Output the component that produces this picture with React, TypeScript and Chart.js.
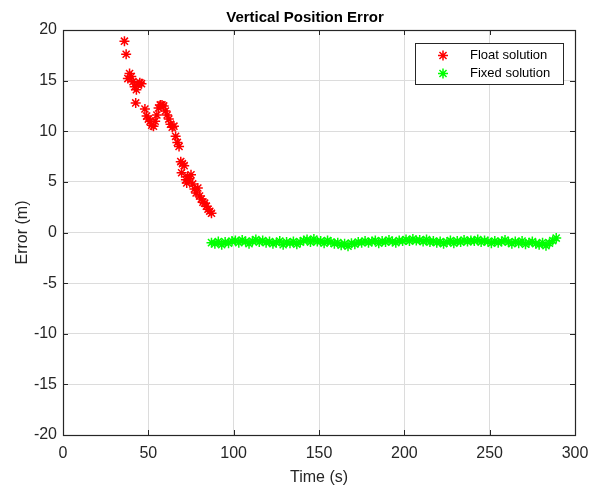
import React, { useEffect, useRef } from "react";
import { Chart, registerables } from "chart.js";

Chart.register(...registerables);

const chartTitle = "Vertical Position Error";

const floatTimes = [36, 37, 38, 39, 40, 41, 42, 42.6, 43, 44, 45, 46, 48, 49, 50, 51, 52, 53, 54, 55, 56, 57, 58, 59, 60, 61, 62, 63, 64, 65, 66, 67, 68, 69, 69.5, 70, 71, 72, 72.5, 73, 74, 75, 76, 77, 78, 79, 80, 81, 82, 83, 84, 85, 86, 87];
const floatErrors = [18.9, 17.6, 15.2, 15.7, 15.4, 14.9, 14.4, 12.8, 14.1, 14.6, 14.8, 14.7, 12.2, 11.5, 11.2, 11.0, 10.6, 10.5, 11.0, 11.6, 12.3, 12.6, 12.6, 12.5, 12.0, 11.6, 11.2, 10.7, 10.4, 10.5, 9.5, 8.9, 8.5, 7.0, 5.9, 6.8, 6.6, 5.2, 4.9, 5.5, 5.3, 5.7, 4.8, 4.3, 3.9, 4.4, 3.6, 3.3, 3.0, 2.9, 2.6, 2.3, 2.1, 1.9];

const fixedStart = 87;
const fixedStep = 2;
const fixedErrors = [
  -1.0, -1.1, -0.9, -1.2, -0.95, -1.05, -0.85,
  -0.8, -1.0, -0.75, -0.9, -1.1, -0.85, -0.7, -0.95, -0.8, -1.0,
  -0.9, -1.1, -1.0, -0.85, -1.2, -0.95, -1.05, -0.9, -1.15, -0.95,
  -0.8, -0.7, -0.95, -0.65, -0.9, -0.85, -1.05, -0.8, -0.95, -1.1,
  -1.0, -1.25, -1.1, -1.35, -1.05, -1.15, -0.95, -1.0, -0.85, -1.0,
  -0.9, -0.8, -1.05, -0.85, -0.95, -0.75, -0.9, -1.0, -0.8, -0.85,
  -0.7, -0.85, -0.65, -0.8, -0.75, -0.9, -0.7, -0.95, -0.85, -1.0,
  -0.9, -1.1, -0.95, -0.8, -1.05, -0.85, -0.95, -0.75, -0.9, -0.8,
  -0.85, -0.7, -0.95, -0.8, -0.9, -1.05, -0.85, -1.0, -0.9, -0.75,
  -0.95, -1.1, -0.9, -1.05, -0.85, -1.15, -1.0, -0.9, -1.1, -1.2,
  -1.0, -1.3, -1.05, -0.8, -0.55,
];
const fixedTimes = fixedErrors.map((_, i) => fixedStart + i * fixedStep);

const xTicks = [0, 50, 100, 150, 200, 250, 300];
const yTicks = [-20, -15, -10, -5, 0, 5, 10, 15, 20];
const seriesNames = ["Float solution", "Fixed solution"];
const seriesColors = ["#ff0000", "#00ff00"];

const FONT = "'Liberation Sans', Arial, Helvetica, sans-serif";

function drawStar(ctx: CanvasRenderingContext2D, x: number, y: number, r: number, color: string) {
  ctx.save();
  ctx.strokeStyle = color;
  ctx.lineWidth = 1.5;
  ctx.beginPath();
  for (let k = 0; k < 4; k++) {
    const a = (k * Math.PI) / 4;
    ctx.moveTo(x - r * Math.cos(a), y - r * Math.sin(a));
    ctx.lineTo(x + r * Math.cos(a), y + r * Math.sin(a));
  }
  ctx.stroke();
  ctx.restore();
}

const boxPlugin = {
  id: "matlabBox",
  afterDraw(chart: any) {
    const { ctx, chartArea } = chart;
    const { left, right, top, bottom } = chartArea;
    const xs = chart.scales.x;
    const ys = chart.scales.y;
    ctx.save();
    ctx.strokeStyle = "#262626";
    ctx.lineWidth = 1;
    const tl = 5;
    ctx.beginPath();
    xTicks.forEach((v) => {
      const px = Math.round(xs.getPixelForValue(v)) + 0.5;
      ctx.moveTo(px, bottom);
      ctx.lineTo(px, bottom - tl);
      ctx.moveTo(px, top);
      ctx.lineTo(px, top + tl);
    });
    yTicks.forEach((v) => {
      const py = Math.round(ys.getPixelForValue(v)) + 0.5;
      ctx.moveTo(left, py);
      ctx.lineTo(left + tl, py);
      ctx.moveTo(right, py);
      ctx.lineTo(right - tl, py);
    });
    ctx.stroke();
    ctx.lineWidth = 1.2;
    ctx.strokeRect(Math.round(left) + 0.5, Math.round(top) + 0.5, Math.round(right - left), Math.round(bottom - top));

    // title
    ctx.fillStyle = "#000000";
    ctx.font = `bold 15px ${FONT}`;
    ctx.textAlign = "center";
    ctx.textBaseline = "middle";
    ctx.fillText(chartTitle, 305, 18);

    // legend
    const bx = 415, by = 43, bw = 148, bh = 41;
    ctx.fillStyle = "#ffffff";
    ctx.fillRect(bx, by, bw, bh);
    ctx.strokeStyle = "#262626";
    ctx.lineWidth = 1;
    ctx.strokeRect(bx + 0.5, by + 0.5, bw, bh);
    ctx.font = `13px ${FONT}`;
    ctx.textBaseline = "middle";
    ctx.textAlign = "left";
    const rows = [55.5, 73.5];
    seriesNames.forEach((name, i) => {
      drawStar(ctx, 443, rows[i], 5, seriesColors[i]);
      ctx.fillStyle = "#000000";
      ctx.fillText(name, 470, rows[i]);
    });
    ctx.restore();
  },
};

export default function App() {
  const canvasRef = useRef<HTMLCanvasElement | null>(null);

  useEffect(() => {
    const canvas = canvasRef.current;
    if (!canvas) return;
    const chart = new Chart(canvas, {
      type: "scatter",
      data: {
        datasets: [
          {
            label: seriesNames[0],
            data: floatTimes.map((t, i) => ({ x: t, y: floatErrors[i] })),
            pointStyle: "star",
            pointRadius: 5,
            borderColor: seriesColors[0],
            backgroundColor: seriesColors[0],
            borderWidth: 1.5,
          },
          {
            label: seriesNames[1],
            data: fixedTimes.map((t, i) => ({ x: t, y: fixedErrors[i] })),
            pointStyle: "star",
            pointRadius: 5,
            borderColor: seriesColors[1],
            backgroundColor: seriesColors[1],
            borderWidth: 1.5,
          },
        ],
      },
      options: {
        animation: false,
        responsive: false,
        devicePixelRatio: 1,
        events: [],
        layout: { padding: { left: 0, right: 41, top: 30, bottom: 0 } },
        plugins: {
          legend: { display: false },
          tooltip: { enabled: false },
          title: { display: false },
        },
        scales: {
          x: {
            type: "linear",
            min: 0,
            max: 300,
            afterBuildTicks: (scale: any) => {
              scale.ticks = xTicks.map((v) => ({ value: v }));
            },
            afterFit: (scale: any) => {
              scale.height = 57;
            },
            grid: { color: "#dcdcdc", drawTicks: false, lineWidth: 1 },
            border: { display: false },
            ticks: {
              color: "#262626",
              font: { family: FONT, size: 16 },
              padding: 9,
              maxRotation: 0,
            },
            title: {
              display: true,
              text: "Time (s)",
              color: "#262626",
              font: { family: FONT, size: 16 },
              padding: { top: 4, bottom: 5 },
            },
          },
          y: {
            type: "linear",
            min: -20,
            max: 20,
            afterBuildTicks: (scale: any) => {
              scale.ticks = yTicks.map((v) => ({ value: v }));
            },
            afterFit: (scale: any) => {
              scale.width = 63;
            },
            grid: { color: "#dcdcdc", drawTicks: false, lineWidth: 1 },
            border: { display: false },
            ticks: {
              color: "#262626",
              font: { family: FONT, size: 16 },
              padding: 6,
            },
            title: {
              display: true,
              text: "Error (m)",
              color: "#262626",
              font: { family: FONT, size: 16 },
              padding: { top: 13, bottom: 0 },
            },
          },
        },
      },
      plugins: [boxPlugin],
    } as any);
    return () => chart.destroy();
  }, []);

  return (
    <div style={{ position: "absolute", left: 0, top: 0, width: 616, height: 492, background: "#ffffff" }}>
      <canvas ref={canvasRef} width={616} height={492} style={{ display: "block" }} />
    </div>
  );
}
